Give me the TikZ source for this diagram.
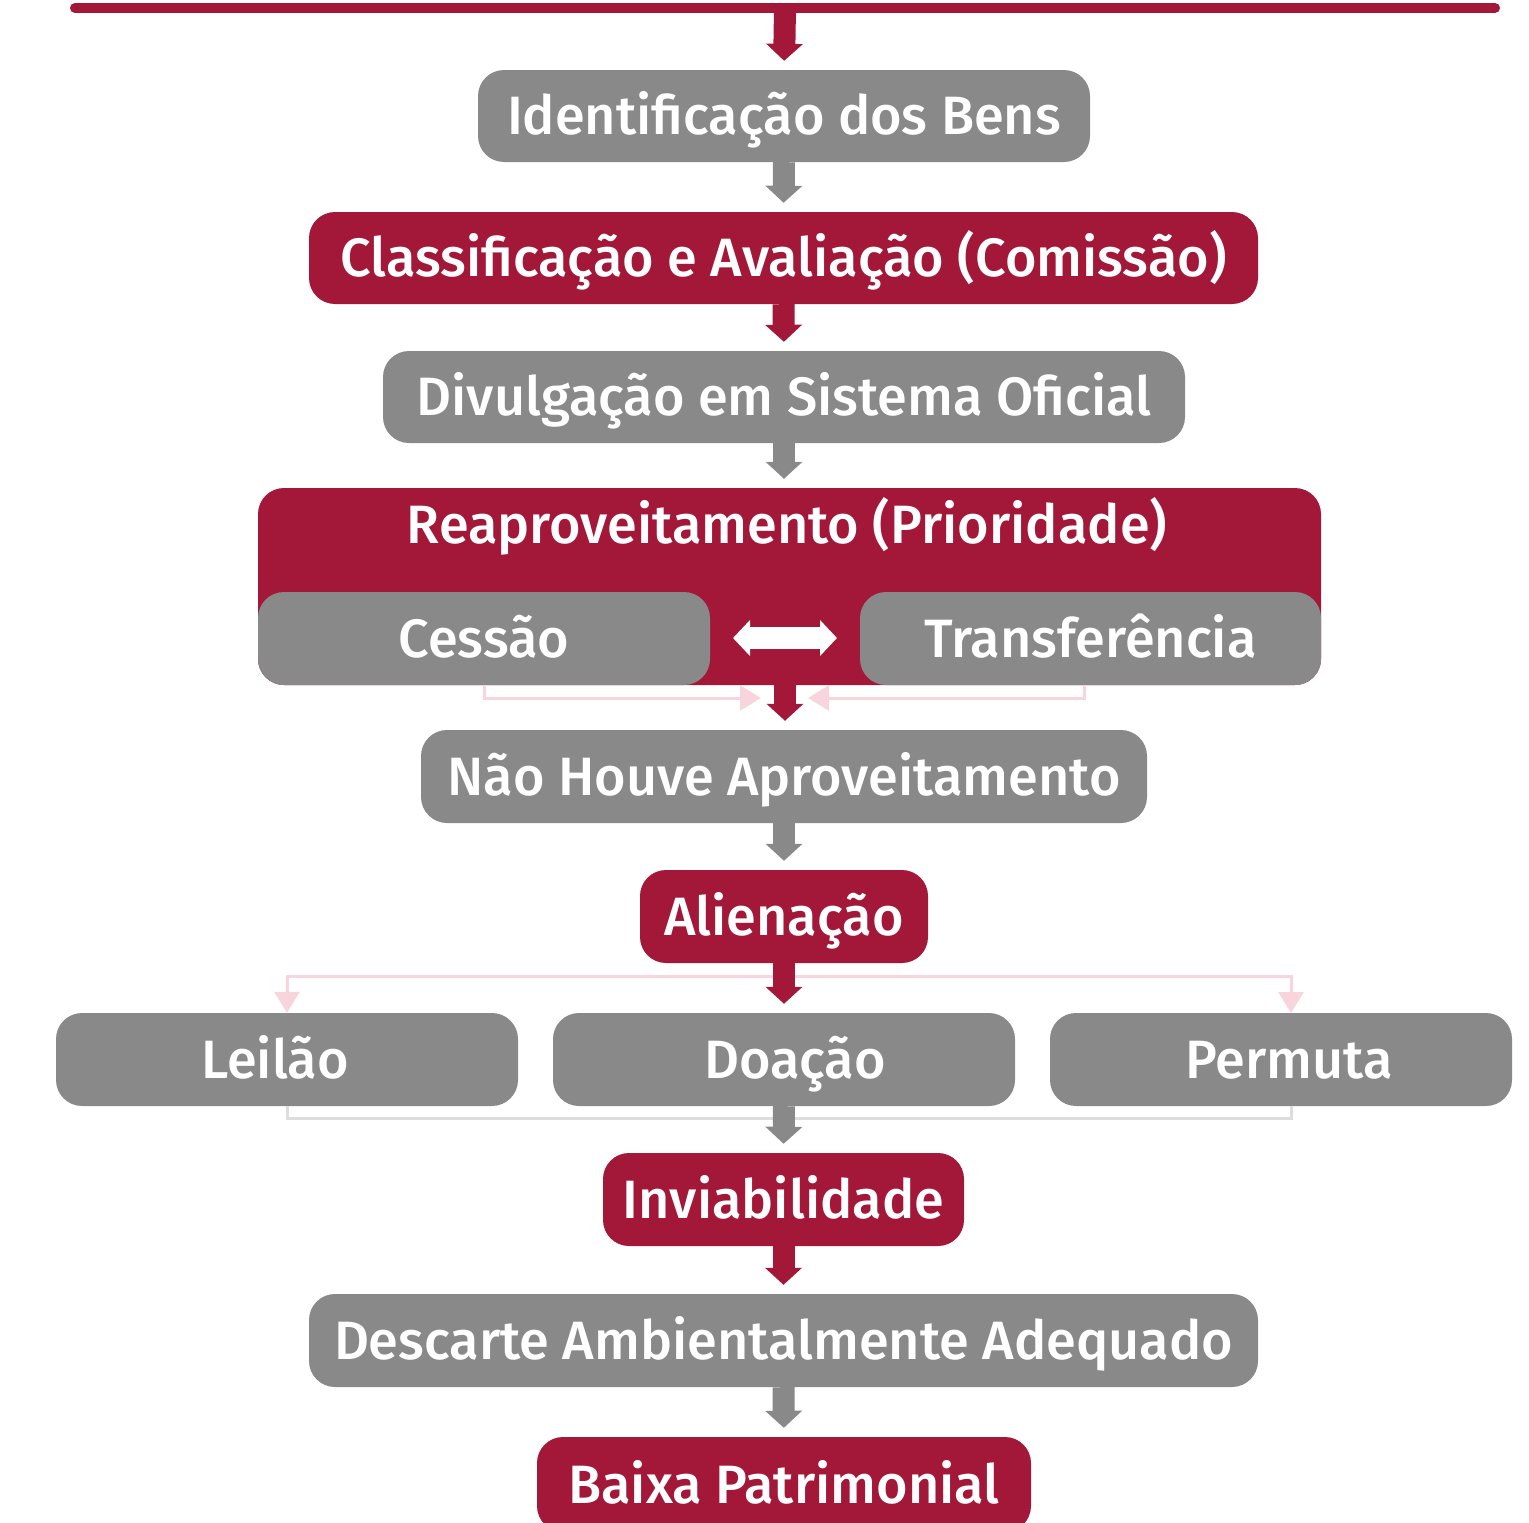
\documentclass[tikz,border=0pt]{standalone}
\usepackage{fontspec}
\setmainfont{Fira Sans}[UprightFont = * Medium]
\usetikzlibrary{arrows.meta}
\definecolor{cred}{HTML}{A31839}
\definecolor{cgray}{HTML}{898989}
\definecolor{cpink}{HTML}{F8D5DD}
\definecolor{clight}{HTML}{DDDDDD}
\tikzset{
  txt/.style={text=white, font=\fontsize{54}{60}\selectfont, text height=37pt, text depth=0pt, inner sep=0pt},
  box/.style={rectangle, rounded corners=26pt, draw=none},
  graybox/.style={box, fill=cgray},
  redbox/.style={box, fill=cred},
  flowred/.style={draw=cred, line width=22pt, shorten >=9pt,
    -{Triangle[width=36pt,length=17pt]}},
  flowgray/.style={draw=cgray, line width=22pt, shorten >=9pt,
    -{Triangle[width=36pt,length=17pt]}},
  pinkline/.style={draw=cpink, line width=3pt, -{Triangle[width=25pt,length=21pt]}},
  lightline/.style={draw=clight, line width=3pt}
}
\begin{document}
\begin{tikzpicture}[x=1pt,y=-1pt]
\useasboundingbox (0,0) rectangle (1529,1523);
\begin{scope}
\clip (0,0) rectangle (1529,1523);
% top bar
\coordinate (barL) at (75,8);
\coordinate (barR) at (1495,8);
\coordinate (bar) at (785,8);
\draw[cred, line width=10pt, line cap=round] (barL) -- (barR);

\node[graybox, minimum width=612pt, minimum height=92pt] (b1) at (784,116) {};
\node[txt] (b1t) at (b1) {Identificação dos Bens};
\node[redbox, minimum width=949pt, minimum height=92pt] (b2) at (783.5,258) {};
\node[txt] (b2t) at (b2) {Classificação e Avaliação (Comissão)};
\node[graybox, minimum width=802pt, minimum height=92pt] (b3) at (784,397) {};
\node[txt] (b3t) at (b3) {Divulgação em Sistema Oficial};
\node[redbox, minimum width=1063pt, minimum height=197pt] (b4) at (789.5,586.5) {};
\node[txt] (b4t) at (787,525) {Reaproveitamento (Prioridade)};
\node[graybox, minimum width=452pt, minimum height=93pt] (ces) at (484,638.5) {};
\node[txt] (cest) at (ces) {Cessão};
\node[graybox, minimum width=461pt, minimum height=93pt] (tra) at (1090.5,638.5) {};
\node[txt] (trat) at (tra) {Transferência};
\node[graybox, minimum width=726pt, minimum height=93pt] (b5) at (784,776.5) {};
\node[txt] (b5t) at (b5) {Não Houve Aproveitamento};
\node[redbox, minimum width=288pt, minimum height=93pt] (b6) at (784,916.5) {};
\node[txt] (b6t) at (b6) {Alienação};
\node[graybox, minimum width=462pt, minimum height=93pt] (lei) at (287,1059.5) {};
\node[txt, xshift=-12pt] (leit) at (lei) {Leilão};
\node[graybox, minimum width=462pt, minimum height=93pt] (doa) at (784,1059.5) {};
\node[txt, xshift=11pt] (doat) at (doa) {Doação};
\node[graybox, minimum width=462pt, minimum height=93pt] (per) at (1281,1059.5) {};
\node[txt, xshift=8pt] (pert) at (per) {Permuta};
\node[redbox, minimum width=361pt, minimum height=93pt] (b7) at (783.5,1199.5) {};
\node[txt] (b7t) at (b7) {Inviabilidade};
\node[graybox, minimum width=949pt, minimum height=93pt] (b8) at (783.5,1340.5) {};
\node[txt] (b8t) at (b8) {Descarte Ambientalmente Adequado};
\node[redbox, minimum width=494pt, minimum height=95pt] (b9) at (784,1484.5) {};
\node[txt] (b9t) at (b9) {Baixa Patrimonial};

% white double arrow
\coordinate (dl) at (733,638);
\coordinate (dr) at (837,638);
\draw[white, line width=22pt, {Triangle[width=35pt,length=17pt]}-{Triangle[width=35pt,length=17pt]}] (dl) -- (dr);

% pink connectors from Cessão / Transferência
\coordinate (cj) at (761,698);
\coordinate (tj) at (808,698);
\coordinate (ts) at (1084,685);
\draw[pinkline] (ces.south) |- (cj);
\draw[pinkline] (ts) |- (tj);

% pink connectors from Alienação
\coordinate (aj) at (785,976);
\coordinate (ps) at (1291,1013);
\draw[pinkline] (aj) -| (lei.north);
\draw[pinkline] (aj) -| (ps);

% light connectors below row
\coordinate (gj) at (287,1118);
\coordinate (pb) at (1291,1106);
\draw[lightline] (lei.south) |- (gj) -| (pb);

% main flow arrows
\coordinate (b4s) at (785,685);
\draw[flowred] (bar) -- (b1.north);
\draw[flowgray] (b1.south) -- (b2.north);
\draw[flowred] (b2.south) -- (b3.north);
\draw[flowgray] (b3.south) -- (b4.north -| b3.south);
\draw[flowred] (b4s) -- (b5.north -| b4s);
\draw[flowgray] (b5.south) -- (b6.north);
\draw[flowred] (b6.south) -- (doa.north);
\draw[flowgray] (doa.south) -- (b7.north);
\draw[flowred] (b7.south) -- (b8.north);
\draw[flowgray] (b8.south) -- (b9.north);
\end{scope}
\end{tikzpicture}
\end{document}
